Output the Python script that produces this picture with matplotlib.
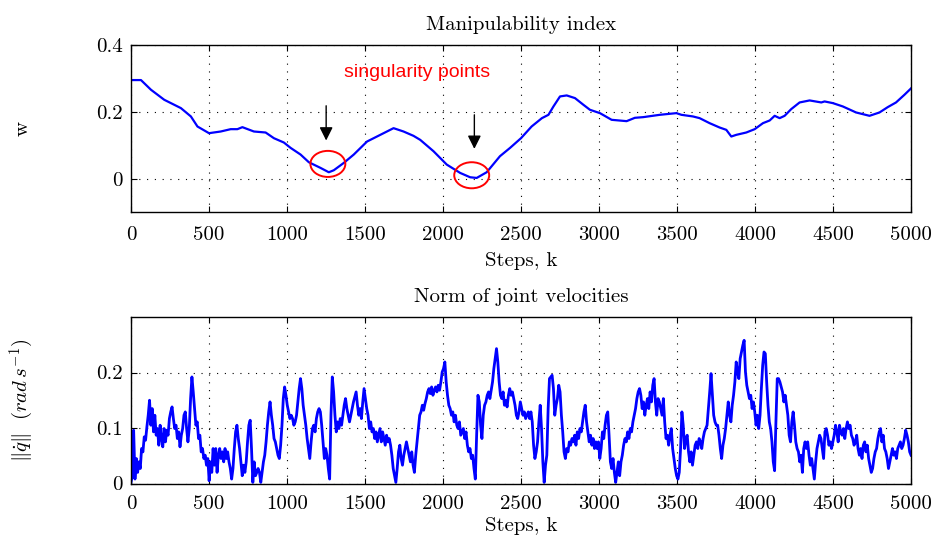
import numpy as np
import matplotlib
matplotlib.use("Agg")
import matplotlib.pyplot as plt
from matplotlib.patches import Ellipse
from matplotlib.ticker import FuncFormatter

plt.rcParams["font.family"] = "cmr10"
plt.rcParams["mathtext.fontset"] = "cm"
plt.rcParams["axes.formatter.use_mathtext"] = True
plt.rcParams["axes.unicode_minus"] = False

# ---- manipulability index w(k) ----
w_steps = [0, 64, 128, 213, 320, 384, 426, 500, 575, 639, 682, 714, 788, 863, 916,
           980, 1023, 1087, 1140, 1215, 1268, 1300, 1364, 1428, 1513, 1598, 1683,
           1747, 1811, 1854, 1939, 2024, 2110, 2174, 2216, 2280, 2365, 2430, 2500,
           2568, 2634, 2676, 2708, 2750, 2793, 2846, 2900, 2942, 3006, 3081, 3177,
           3230, 3283, 3390, 3496, 3528, 3603, 3645, 3709, 3773, 3816, 3848, 3880,
           3944, 3998, 4051, 4094, 4126, 4158, 4190, 4232, 4286, 4350, 4425, 4446,
           4499, 4563, 4648, 4734, 4798, 4851, 4904, 4958, 5000]
w_values = [0.295, 0.295, 0.266, 0.236, 0.211, 0.186, 0.156, 0.136, 0.141, 0.148,
            0.148, 0.154, 0.141, 0.138, 0.121, 0.108, 0.092, 0.072, 0.049, 0.032,
            0.019, 0.025, 0.047, 0.072, 0.111, 0.131, 0.151, 0.141, 0.128, 0.116,
            0.082, 0.042, 0.017, 0.004, 0.002, 0.019, 0.067, 0.092, 0.121, 0.156,
            0.181, 0.191, 0.216, 0.246, 0.249, 0.241, 0.221, 0.206, 0.196, 0.176,
            0.172, 0.182, 0.184, 0.191, 0.196, 0.191, 0.186, 0.181, 0.166, 0.153,
            0.146, 0.126, 0.131, 0.138, 0.148, 0.166, 0.174, 0.188, 0.181, 0.188,
            0.208, 0.228, 0.234, 0.228, 0.231, 0.226, 0.216, 0.198, 0.188, 0.198,
            0.214, 0.228, 0.251, 0.270]

# singular configurations (step, w) and the arrows pointing at them
singular_steps = [1262, 2184]
singular_w = [0.044, 0.010]
arrow_steps = [1251, 2201]
arrow_top = [0.218, 0.191]
arrow_tip = [0.114, 0.089]

# ---- norm of joint velocities, sampled uniformly over 0..5000 ----
qd_norm_a = [
    0.002, 0.014, 0.096, 0.008, 0.045, 0.020, 0.039, 0.027, 0.063, 0.057, 0.084, 0.078,
    0.102, 0.123, 0.150, 0.105, 0.135, 0.093, 0.123, 0.087, 0.099, 0.069, 0.105, 0.081,
    0.066, 0.099, 0.075, 0.096, 0.087, 0.117, 0.129, 0.138, 0.117, 0.099, 0.105, 0.081,
    0.093, 0.066, 0.087, 0.099, 0.123, 0.129, 0.099, 0.075, 0.099, 0.153, 0.192, 0.165,
    0.135, 0.105, 0.111, 0.081, 0.087, 0.057, 0.063, 0.045, 0.051, 0.033, 0.045, 0.005,
    0.039, 0.020, 0.063, 0.033, 0.063, 0.020, 0.051, 0.063, 0.045, 0.057, 0.039, 0.063,
    0.045, 0.057, 0.039, 0.027, 0.008, 0.027, 0.063, 0.093, 0.105, 0.081, 0.063, 0.039,
    0.014, 0.033, 0.020, 0.039, 0.075, 0.105, 0.114, 0.063, 0.002, 0.039, 0.014, 0.020,
    0.027, 0.020, 0.002, 0.020, 0.039, 0.051, 0.075, 0.105, 0.129, 0.147, 0.123, 0.105,
    0.081, 0.075, 0.063, 0.051, 0.045, 0.069, 0.105, 0.153, 0.174, 0.159, 0.141, 0.129,
    0.117, 0.123, 0.117, 0.105, 0.111, 0.123, 0.147, 0.171, 0.189, 0.171, 0.141, 0.123,
    0.105, 0.081, 0.063, 0.045, 0.075, 0.099, 0.105, 0.093, 0.117, 0.129, 0.135, 0.129,
    0.105, 0.075, 0.045]
qd_norm_b = [
    0.063, 0.051, 0.027, 0.008, 0.123, 0.192, 0.165, 0.123, 0.093, 0.111, 0.099, 0.117,
    0.105, 0.123, 0.141, 0.153, 0.135, 0.123, 0.111, 0.123, 0.135, 0.147, 0.156, 0.165,
    0.141, 0.123, 0.135, 0.117, 0.147, 0.171, 0.153, 0.135, 0.123, 0.099, 0.111, 0.093,
    0.099, 0.081, 0.093, 0.075, 0.087, 0.099, 0.075, 0.093, 0.081, 0.069, 0.087, 0.075,
    0.081, 0.069, 0.051, 0.027, 0.014, 0.002, 0.027, 0.057, 0.069, 0.045, 0.033, 0.051,
    0.063, 0.075, 0.063, 0.051, 0.039, 0.057, 0.033, 0.020, 0.051, 0.075, 0.099, 0.123,
    0.129, 0.141, 0.132, 0.144, 0.153, 0.165, 0.171, 0.162, 0.174, 0.159, 0.168, 0.174,
    0.165, 0.177, 0.168, 0.183, 0.201, 0.207, 0.219, 0.183, 0.159, 0.141, 0.135, 0.123,
    0.129, 0.111, 0.123, 0.105, 0.099, 0.111, 0.087, 0.093, 0.099, 0.081, 0.093, 0.069,
    0.057, 0.063, 0.045, 0.051, 0.027, 0.008, 0.087, 0.159, 0.147, 0.105, 0.081, 0.123,
    0.141, 0.147, 0.159, 0.165, 0.153, 0.168, 0.183, 0.207, 0.225, 0.243, 0.219, 0.183,
    0.159, 0.153, 0.165, 0.141, 0.150, 0.138, 0.159, 0.171, 0.159, 0.165, 0.153, 0.141,
    0.123, 0.117, 0.129, 0.147]
qd_norm_c = [
    0.135, 0.123, 0.129, 0.117, 0.123, 0.129, 0.117, 0.129, 0.111, 0.069, 0.045, 0.057,
    0.075, 0.111, 0.141, 0.099, 0.039, 0.002, 0.033, 0.051, 0.135, 0.189, 0.192, 0.195,
    0.171, 0.123, 0.141, 0.153, 0.177, 0.165, 0.123, 0.093, 0.057, 0.045, 0.063, 0.057,
    0.075, 0.069, 0.081, 0.075, 0.087, 0.069, 0.093, 0.081, 0.099, 0.093, 0.111, 0.129,
    0.141, 0.111, 0.093, 0.075, 0.087, 0.069, 0.081, 0.063, 0.075, 0.063, 0.075, 0.045,
    0.063, 0.093, 0.081, 0.105, 0.123, 0.129, 0.087, 0.039, 0.027, 0.045, 0.020, 0.002,
    0.020, 0.039, 0.014, 0.039, 0.051, 0.069, 0.081, 0.075, 0.093, 0.081, 0.099, 0.093,
    0.111, 0.123, 0.135, 0.153, 0.165, 0.171, 0.159, 0.135, 0.147, 0.123, 0.141, 0.153,
    0.135, 0.165, 0.147, 0.177, 0.189, 0.147, 0.123, 0.153, 0.147, 0.135, 0.123, 0.153,
    0.111, 0.081, 0.087, 0.069, 0.087, 0.099, 0.063, 0.045, 0.027, 0.014, 0.008, 0.020,
    0.063, 0.129, 0.105, 0.063, 0.081, 0.087, 0.057, 0.039, 0.057, 0.033, 0.051, 0.069,
    0.075, 0.063, 0.081, 0.075, 0.063, 0.081, 0.093, 0.099, 0.105, 0.135, 0.165, 0.198,
    0.159, 0.123, 0.111, 0.105]
qd_norm_d = [
    0.105, 0.087, 0.063, 0.045, 0.069, 0.081, 0.099, 0.123, 0.147, 0.123, 0.111, 0.141,
    0.159, 0.183, 0.219, 0.201, 0.189, 0.225, 0.237, 0.249, 0.258, 0.201, 0.177, 0.165,
    0.153, 0.159, 0.135, 0.147, 0.129, 0.105, 0.123, 0.099, 0.123, 0.171, 0.213, 0.237,
    0.234, 0.183, 0.141, 0.111, 0.099, 0.075, 0.039, 0.023, 0.111, 0.189, 0.189, 0.183,
    0.174, 0.165, 0.147, 0.159, 0.141, 0.123, 0.087, 0.075, 0.111, 0.129, 0.105, 0.075,
    0.063, 0.057, 0.039, 0.051, 0.020, 0.063, 0.075, 0.063, 0.075, 0.051, 0.033, 0.045,
    0.027, 0.008, 0.039, 0.063, 0.075, 0.087, 0.081, 0.063, 0.045, 0.093, 0.099, 0.087,
    0.069, 0.075, 0.063, 0.075, 0.087, 0.105, 0.093, 0.075, 0.105, 0.093, 0.087, 0.099,
    0.081, 0.099, 0.111, 0.099, 0.105, 0.087, 0.081, 0.069, 0.075, 0.087, 0.063, 0.051,
    0.063, 0.045, 0.069, 0.075, 0.057, 0.069, 0.045, 0.033, 0.020, 0.027, 0.045, 0.057,
    0.063, 0.081, 0.093, 0.099, 0.075, 0.087, 0.063, 0.057, 0.045, 0.027, 0.039, 0.051,
    0.063, 0.051, 0.057, 0.045, 0.063, 0.069, 0.075, 0.063, 0.069, 0.081, 0.096, 0.087,
    0.075, 0.057, 0.051]
qd_norm = qd_norm_a + qd_norm_b + qd_norm_c + qd_norm_d
qd_steps = np.linspace(0, 5000, len(qd_norm))

x_ticks = list(range(0, 5001, 500))
w_ticks = [0, 0.2, 0.4]
qd_ticks = [0, 0.1, 0.2]

BLUE = "#0000ff"
FS = 15


def num_fmt(v, _pos):
    if abs(v - round(v)) < 1e-9:
        return "%d" % round(v)
    return ("%.1f" % v)


def style_axes(ax, xpad):
    ax.set_xlim(0, 5000)
    ax.set_xticks(x_ticks)
    ax.xaxis.set_major_formatter(FuncFormatter(num_fmt))
    ax.yaxis.set_major_formatter(FuncFormatter(num_fmt))
    ax.tick_params(direction="in", length=4, width=0.8, top=True, right=True,
                   labelsize=FS)
    ax.tick_params(axis="x", pad=xpad)
    ax.tick_params(axis="y", pad=6)
    ax.grid(True, color="black", linestyle=(0, (1, 6)), linewidth=0.8)
    for sp in ax.spines.values():
        sp.set_linewidth(1.0)
        sp.set_color("black")


fig = plt.figure(figsize=(9.38, 5.44), dpi=100)

ax1 = fig.add_axes([131 / 938, 1 - 212 / 544, 780 / 938, 167 / 544])
ax1.plot(w_steps, w_values, color=BLUE, linewidth=1.6)
ax1.set_ylim(-0.1, 0.4)
ax1.set_yticks(w_ticks)
style_axes(ax1, 10)
ax1.set_title("Manipulability index", fontsize=FS, pad=11)
ax1.set_xlabel("Steps, k", fontsize=FS, labelpad=6)
ax1.set_ylabel("w", fontsize=FS)
ax1.yaxis.set_label_coords(-0.127, 0.5)

for s, v in zip(singular_steps, singular_w):
    ax1.add_patch(Ellipse((s, v), width=224, height=0.078, fill=False,
                          edgecolor="red", linewidth=1.4, zorder=4))
for s, top, tip in zip(arrow_steps, arrow_top, arrow_tip):
    ax1.annotate("", xy=(s, tip), xytext=(s, top),
                 arrowprops=dict(arrowstyle="-|>,head_length=0.8,head_width=0.4",
                                 color="black", linewidth=1.0, shrinkA=0, shrinkB=0))
ax1.text(1835, 0.318, "singularity points", color="red", fontsize=14,
         family=["Liberation Sans", "DejaVu Sans"], ha="center", va="center")

ax2 = fig.add_axes([131 / 938, 1 - 483.5 / 544, 780 / 938, 166.5 / 544])
ax2.plot(qd_steps, qd_norm, color=BLUE, linewidth=2.0)
ax2.set_ylim(0, 0.3)
ax2.set_yticks(qd_ticks)
style_axes(ax2, 8)
ax2.set_title("Norm of joint velocities", fontsize=FS, pad=10.5)
ax2.set_xlabel("Steps, k", fontsize=FS, labelpad=3)
ax2.set_ylabel(r"$\|\dot{q}\|\ \ (rad\,s^{-1})$", fontsize=FS)
ax2.yaxis.set_label_coords(-0.122, 0.5)

fig.savefig("out.png", dpi=100)
